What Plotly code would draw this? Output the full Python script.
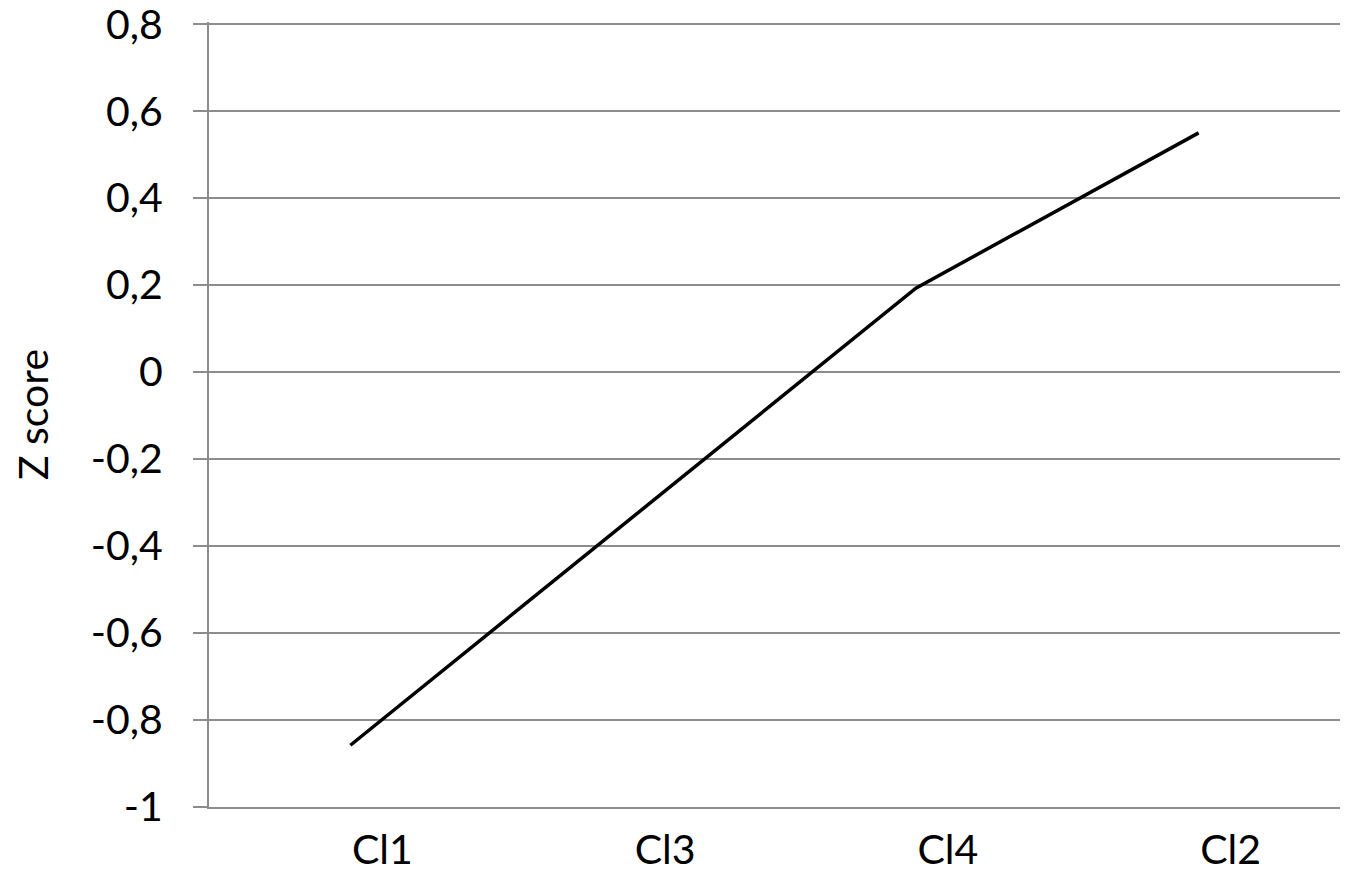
import plotly.graph_objects as go

# data
clusters = ["Cl1", "Cl3", "Cl4", "Cl2"]
z_scores = [-0.858, -0.332, 0.193, 0.55]

y_ticks = [-1, -0.8, -0.6, -0.4, -0.2, 0, 0.2, 0.4, 0.6, 0.8]
y_ticklabels = ["-1", "-0,8", "-0,6", "-0,4", "-0,2", "0", "0,2", "0,4", "0,6", "0,8"]

FONT = "Lato"
GRID = "#8c8c8c"

fig = go.Figure()
fig.add_trace(go.Scatter(x=clusters, y=z_scores, mode="lines",
                         line=dict(color="black", width=3.5),
                         showlegend=False))

# page body has an 8px margin, so the margins are set a little tighter
fig.update_layout(
    width=1350, height=881,
    margin=dict(l=201, r=18, t=14, b=82),
    plot_bgcolor="white", paper_bgcolor="white",
    font=dict(family=FONT, size=41, color="black"),
    separators=",.",
)

fig.update_xaxes(
    type="category", range=[-0.5, 3.5], automargin=False,
    showgrid=False, showline=True, linecolor=GRID, linewidth=2,
    ticks="", ticklabelshift=32, ticklabelstandoff=6,
    tickfont=dict(family=FONT, size=41),
)

# range a hair above 0.8 so the top gridline is still drawn
fig.update_yaxes(
    range=[-1, 0.805], tickvals=y_ticks, ticktext=y_ticklabels,
    automargin=False, ticklabeloverflow="allow",
    showgrid=True, gridcolor=GRID, gridwidth=2,
    zeroline=False,
    showline=True, linecolor=GRID, linewidth=2,
    ticks="outside", ticklen=14, tickcolor=GRID, tickwidth=2,
    ticklabelstandoff=22,
    tickfont=dict(family=FONT, size=41),
    title=dict(text="Z score", font=dict(family=FONT, size=41), standoff=34),
)

fig.write_html("out.html")
